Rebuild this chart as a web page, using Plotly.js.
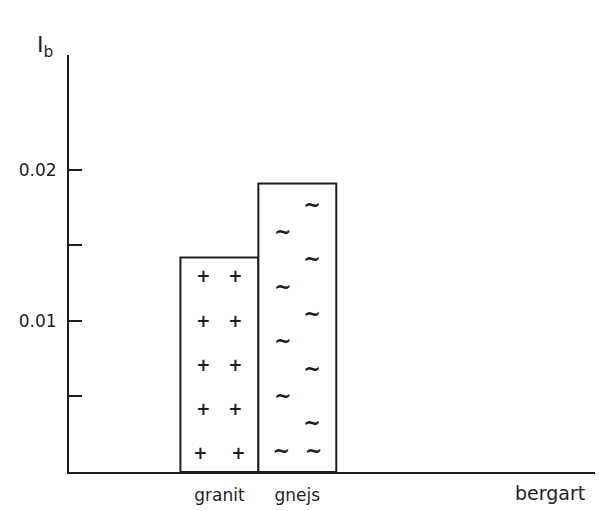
<!DOCTYPE html>
<html><head><meta charset="utf-8">
<script src="https://cdn.plot.ly/plotly-3.0.1.min.js"></script>
<style>html,body{margin:0;padding:0;background:#fff}</style>
</head><body><div id="chart" style="width:599px;height:511px"></div>
<script>
const categories = ["granit", "gnejs"];
const values = [0.0142, 0.0191];
const yTickVals = [0.01, 0.02];
const yTickText = ["0.01", "0.02"];
const yMinorTickVals = [0.005, 0.015];
const NB = "\u00A0";
const hatchText = [
  ["+" + NB.repeat(3) + "+", NB, "+" + NB.repeat(3) + "+", NB, "+" + NB.repeat(3) + "+", NB, "+" + NB.repeat(3) + "+", NB, "+" + NB.repeat(4) + "+"].join("<br>"),
  [NB.repeat(4) + "~", "~" + NB.repeat(4), NB.repeat(4) + "~", "~" + NB.repeat(4), NB.repeat(4) + "~", "~" + NB.repeat(4), NB.repeat(4) + "~", "~" + NB.repeat(4), NB.repeat(4) + "~", "~" + NB.repeat(2) + "~"].join("<br>")
];
const ink = "#1e1e1e";
const font = "DejaVu Sans, sans-serif";

const trace = {
  type: "bar",
  x: categories,
  y: values,
  width: 1,
  text: hatchText,
  textposition: "inside",
  insidetextanchor: "middle",
  constraintext: "none",
  textfont: {family: font, size: [17, 21], color: ink, weight: "bold"},
  marker: {color: "#ffffff", line: {color: ink, width: 2}},
  hoverinfo: "skip"
};

const layout = {
  width: 599, height: 511,
  margin: {l: 69, r: 4, t: 55, b: 39},
  paper_bgcolor: "#ffffff", plot_bgcolor: "#ffffff",
  showlegend: false,
  bargap: 0,
  font: {family: font, color: ink, size: 16},
  xaxis: {
    type: "category",
    range: [-1.93, 4.82],
    showline: true, linecolor: ink, linewidth: 2,
    showgrid: false, zeroline: false,
    ticks: "", ticklabelstandoff: 7,
    tickfont: {size: 17, family: font, color: ink}
  },
  yaxis: {
    range: [0, 0.0276],
    showline: true, linecolor: ink, linewidth: 2,
    showgrid: false, zeroline: false,
    tickmode: "array", tickvals: yTickVals, ticktext: yTickText,
    ticks: "inside", ticklen: 13, tickwidth: 2, tickcolor: ink,
    ticklabelstandoff: 7,
    tickfont: {size: 17, family: font, color: ink},
    minor: {tickmode: "array", tickvals: yMinorTickVals, ticks: "inside", ticklen: 13, tickwidth: 2, tickcolor: ink, showgrid: false}
  },
  annotations: [
    {text: "I<sub>b</sub>", xref: "paper", yref: "paper", x: -0.045, y: 1.06, xanchor: "center", yanchor: "top", showarrow: false, font: {size: 22, family: font, color: ink}},
    {text: "bergart", xref: "paper", yref: "paper", x: 0.985, y: -0.02, xanchor: "right", yanchor: "top", showarrow: false, font: {size: 19, family: font, color: ink}}
  ]
};

Plotly.newPlot("chart", [trace], layout, {staticPlot: true, displayModeBar: false});
</script></body></html>
